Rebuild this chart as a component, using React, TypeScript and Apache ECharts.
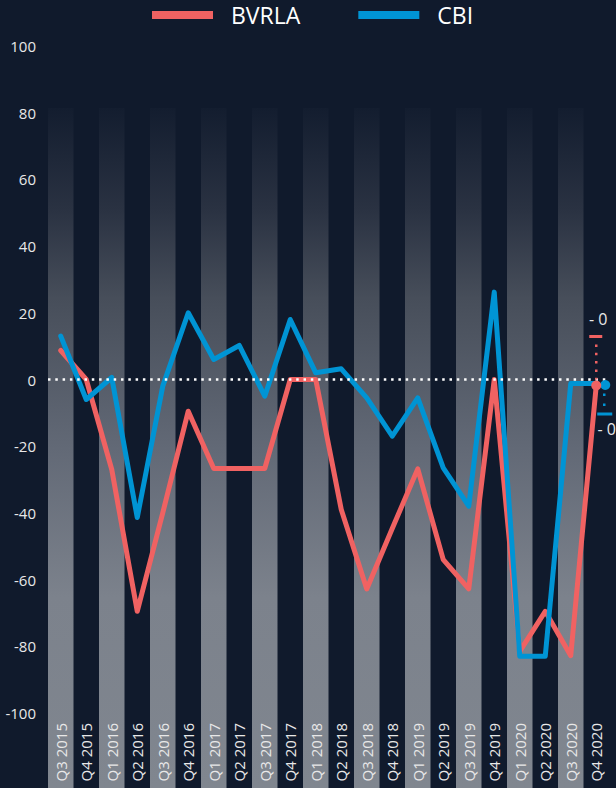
import React, { useEffect, useRef } from "react";
import * as echarts from "echarts";

const categories = [
  "Q3 2015", "Q4 2015", "Q1 2016", "Q2 2016", "Q3 2016", "Q4 2016",
  "Q1 2017", "Q2 2017", "Q3 2017", "Q4 2017", "Q1 2018", "Q2 2018",
  "Q3 2018", "Q4 2018", "Q1 2019", "Q2 2019", "Q3 2019", "Q4 2019",
  "Q1 2020", "Q2 2020", "Q3 2020", "Q4 2020",
];
const bvrla = [8.7, 0, -27, -69.5, -40, -9.5, -26.7, -26.7, -26.7, 0, 0, -39, -62.8, -44.7, -26.8, -54, -62.8, 0, -81.5, -69.5, -82.8, -1.8];
const cbi = [13, -6, 0.6, -41.4, -2, 20, 6, 10.2, -5, 18, 2, 3.2, -5.5, -17, -5.5, -26.5, -38, 26.2, -83, -83, -1.2, -1.2];
const seriesNames = ["BVRLA", "CBI"];
const latestLabels = ["- 0", "- 0"];
const yMin = -100;
const yMax = 100;
const yInterval = 20;

const RED = "#f06262";
const BLUE = "#0094d4";
const BG = "#101a2c";
const FONT = "Open Sans";

export default function App() {
  const ref = useRef<HTMLDivElement>(null);
  useEffect(() => {
    document.body.style.margin = "0";
    document.body.style.background = BG;
    const chart = echarts.init(ref.current!, null, { renderer: "svg" });
    const bandData = categories.map((_, i) => (i % 2 === 0 ? 1 : "-"));
    chart.setOption({
      animation: false,
      backgroundColor: BG,
      textStyle: { fontFamily: FONT },
      legend: {
        data: seriesNames,
        left: 152,
        top: 0,
        padding: 0,
        icon: "rect",
        itemWidth: 61,
        itemHeight: 8,
        itemGap: 58,
        textStyle: {
          color: "#ffffff",
          fontSize: 23,
          fontFamily: FONT,
          lineHeight: 30,
          padding: [0, 0, 0, 13],
        },
      },
      grid: [
        { left: 48, right: 7, top: 46, bottom: 75 },
        { left: 48, right: 7, top: 108, bottom: 0 },
      ],
      xAxis: [
        {
          type: "category",
          gridIndex: 0,
          data: categories,
          boundaryGap: true,
          axisLine: { show: false },
          axisTick: { show: false },
          splitLine: { show: false },
          axisLabel: {
            interval: 0,
            rotate: 90,
            margin: 10,
            color: "#e8e8e8",
            fontSize: 15,
            fontFamily: FONT,
          },
        },
        {
          type: "category",
          gridIndex: 1,
          data: categories,
          show: false,
        },
      ],
      yAxis: [
        {
          type: "value",
          gridIndex: 0,
          min: yMin,
          max: yMax,
          interval: yInterval,
          axisLine: { show: false },
          axisTick: { show: false },
          splitLine: { show: false },
          axisLabel: {
            margin: 12,
            color: "#e8e8e8",
            fontSize: 15,
            fontFamily: FONT,
          },
        },
        { type: "value", gridIndex: 1, min: 0, max: 1, show: false },
      ],
      series: [
        {
          type: "bar",
          xAxisIndex: 1,
          yAxisIndex: 1,
          data: bandData,
          barWidth: "100%",
          silent: true,
          z: 0,
          itemStyle: {
            color: new echarts.graphic.LinearGradient(0, 0, 0, 1, [
              { offset: 0, color: "#131d2f" },
              { offset: 0.15, color: "#2a3242" },
              { offset: 0.28, color: "#474e5a" },
              { offset: 0.5, color: "#626976" },
              { offset: 0.72, color: "#7c828c" },
              { offset: 1, color: "#80868f" },
            ]),
          },
        },
        {
          name: seriesNames[0],
          type: "line",
          data: bvrla,
          showSymbol: false,
          symbol: "none",
          color: RED,
          z: 3,
          lineStyle: { width: 5, color: RED, join: "round", cap: "round" },
          markLine: {
            silent: true,
            symbol: "none",
            label: { show: false },
            lineStyle: { color: "#ffffff", width: 2.5, type: [2.5, 4.8], opacity: 1 },
            data: [{ yAxis: 0 }],
          },
        },
        {
          name: seriesNames[1],
          type: "line",
          data: cbi,
          showSymbol: false,
          symbol: "none",
          color: BLUE,
          z: 4,
          lineStyle: { width: 5, color: BLUE, join: "round", cap: "round" },
        },
      ],
    });

    const last = categories.length - 1;
    const pr = chart.convertToPixel({ seriesIndex: 1 }, [last, bvrla[last]]) as number[];
    const pb = chart.convertToPixel({ seriesIndex: 2 }, [last, cbi[last]]) as number[];
    chart.setOption({
      graphic: [
        {
          type: "line",
          z: 100,
          shape: { x1: pr[0], y1: pr[1] - 41, x2: pr[0], y2: pr[1] - 6 },
          style: { stroke: RED, lineWidth: 2.5, lineDash: [2.5, 5.8] },
        },
        {
          type: "rect",
          z: 100,
          shape: { x: pr[0] - 7, y: pr[1] - 50.5, width: 13, height: 3 },
          style: { fill: RED },
        },
        {
          type: "text",
          z: 100,
          x: pr[0] + 2,
          y: pr[1] - 67,
          style: {
            text: latestLabels[0],
            fill: "#e8e8e8",
            font: `16px "${FONT}"`,
            align: "center",
            verticalAlign: "middle",
          },
        },
        {
          type: "circle",
          z: 101,
          shape: { cx: pr[0], cy: pr[1], r: 5 },
          style: { fill: RED },
        },
        {
          type: "circle",
          z: 100,
          shape: { cx: pb[0] + 9, cy: pb[1] + 1.5, r: 5 },
          style: { fill: BLUE },
        },
        {
          type: "line",
          z: 100,
          shape: { x1: pb[0] + 8, y1: pb[1] + 10, x2: pb[0] + 8, y2: pb[1] + 24 },
          style: { stroke: BLUE, lineWidth: 2.5, lineDash: [2.5, 7.5] },
        },
        {
          type: "rect",
          z: 100,
          shape: { x: pb[0] + 1, y: pb[1] + 29, width: 15, height: 3 },
          style: { fill: BLUE },
        },
        {
          type: "text",
          z: 100,
          x: 616,
          y: pb[1] + 45,
          style: {
            text: latestLabels[1],
            fill: "#e8e8e8",
            font: `16px "${FONT}"`,
            align: "right",
            verticalAlign: "middle",
          },
        },
      ],
    });
    return () => chart.dispose();
  }, []);
  return <div ref={ref} style={{ width: 616, height: 788, background: BG }} />;
}
